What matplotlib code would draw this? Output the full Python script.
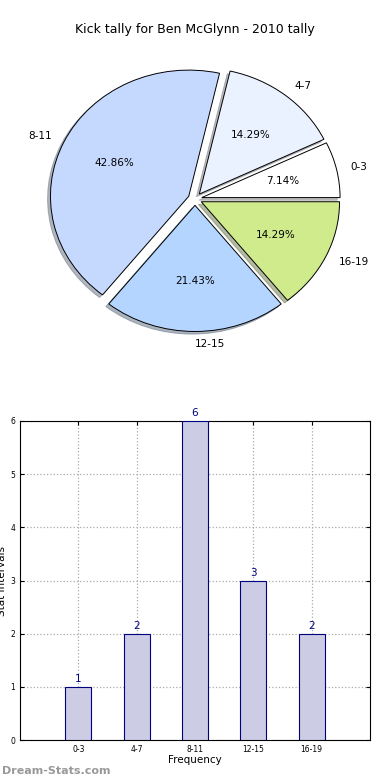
import matplotlib
matplotlib.use("Agg")
import matplotlib.pyplot as plt

categories = ["0-3", "4-7", "8-11", "12-15", "16-19"]
values = [1, 2, 6, 3, 2]
pie_colors = ["#ffffff", "#ebf2ff", "#c5d9ff", "#b4d5ff", "#cfeb8c"]
title = "Kick tally for Ben McGlynn - 2010 tally"

fig = plt.figure(figsize=(3.9, 7.8), dpi=100)

# Pie (slightly elliptical as in the reference)
pw, ph = 296, 270
ax1 = fig.add_axes([(195 - pw/2)/390, (780 - 199 - ph/2)/780, pw/390, ph/780])
ax1.pie(values, labels=categories, colors=pie_colors, autopct="%.2f%%",
        explode=[0.05]*5, shadow=dict(ox=-0.015, oy=-0.015, shade=0.5),
        startangle=0, counterclock=True,
        wedgeprops=dict(edgecolor="black", linewidth=0.7),
        textprops=dict(fontsize=7.5))
ax1.set_aspect("auto")
ax1.set_xlim(-1.07, 1.07)
ax1.set_ylim(-1.07, 1.07)
fig.text(0.5, 1-30/780, title, ha="center", va="center", fontsize=9)

# Bars
ax2 = fig.add_axes([20/390, 40/780, 350/390, 319/780])
xpos = [i + 1 for i in range(len(categories))]
ax2.bar(xpos, values, width=0.45, color="#cccce4", edgecolor="navy", linewidth=0.8, zorder=3)
for x, v in zip(xpos, values):
    ax2.text(x, v + 0.05, str(v), ha="center", va="bottom", color="navy", fontsize=7.5, zorder=4)
ax2.set_xlim(0, 6)
ax2.set_ylim(0, 6)
ax2.set_xticks(xpos)
ax2.set_xticklabels(categories, fontsize=5.5)
ax2.set_yticks(range(7))
ax2.tick_params(axis="y", labelsize=5.5, direction="in", length=3)
ax2.tick_params(axis="x", direction="in", length=3)
ax2.tick_params(top=True, right=True)
ax2.grid(True, linestyle=":", color="#aaaaaa", linewidth=0.9, zorder=0)
ax2.set_xlabel("Frequency", fontsize=7.5, labelpad=1)
ax2.set_ylabel("Stat Intervals", fontsize=7.5, labelpad=2)

fig.text(2/390, 1-771/780, "Dream-Stats.com", ha="left", va="center", fontsize=8, color="#999999", fontweight="bold")

fig.savefig("out.png", dpi=100)
